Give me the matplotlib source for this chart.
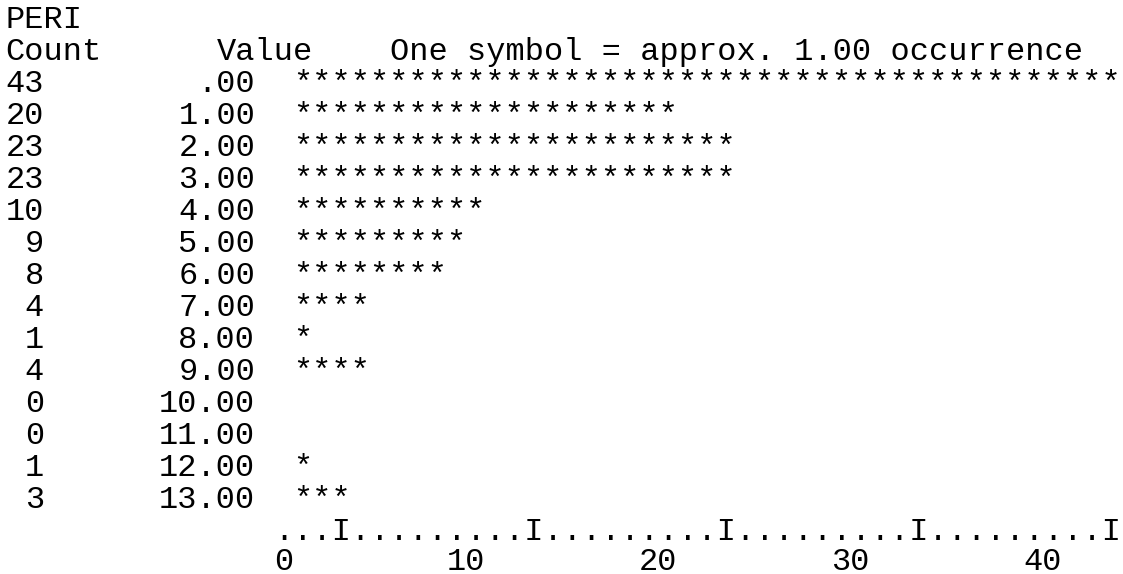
import matplotlib
matplotlib.use("Agg")
import matplotlib.pyplot as plt

# ---- data ----
variable_name = "PERI"
values = [0, 1, 2, 3, 4, 5, 6, 7, 8, 9, 10, 11, 12, 13]
value_labels = [".00", "1.00", "2.00", "3.00", "4.00", "5.00", "6.00",
                "7.00", "8.00", "9.00", "10.00", "11.00", "12.00", "13.00"]
counts = [43, 20, 23, 23, 10, 9, 8, 4, 1, 4, 0, 0, 1, 3]
axis_tick_values = [0, 10, 20, 30, 40]
axis_marks = "...I.........I.........I.........I.........I"
header_count = "Count"
header_value = "Value"
header_note = "One symbol = approx. 1.00 occurrence"

# ---- layout (character grid) ----
W, H, DPI = 1123, 574, 100
PITCH_X = 19.2      # px per character column
PITCH_Y = 32.0      # px per text row
X0 = 5.5            # px of column 0 left edge
BASE0 = 28.0        # px of baseline of row 0
FONT_PX = 32.0
fs = FONT_PX * 72 / DPI

fig = plt.figure(figsize=(W / DPI, H / DPI), dpi=DPI)
ax = fig.add_axes([0, 0, 1, 1])
ax.set_xlim(-X0 / PITCH_X, (W - X0) / PITCH_X)
ax.set_ylim((H - BASE0) / PITCH_Y, -BASE0 / PITCH_Y)
ax.axis("off")

font = dict(family=["Liberation Mono", "DejaVu Sans Mono"], fontsize=fs,
            color="black", ha="left", va="baseline")

COUNT_COL = 0
COUNT_W = 2
VALUE_END = 13      # column after last char of value label
STAR_COL = 15
AXIS_COL = STAR_COL - 1

ax.text(0, 0, variable_name, **font)
ax.text(COUNT_COL, 1, header_count, **font)
ax.text(11, 1, header_value, **font)
ax.text(20, 1, header_note, **font)

for i, (c, lab) in enumerate(zip(counts, value_labels)):
    row = 2 + i
    cs = str(c)
    ax.text(COUNT_COL + (COUNT_W - len(cs) if c < 10 else 0), row, cs, **font)
    ax.text(VALUE_END - len(lab), row, lab, **font)
    if c > 0:
        ax.text(STAR_COL, row, "*" * c, **font)

axis_row = 2 + len(counts)
ax.text(AXIS_COL, axis_row, axis_marks, **font)
for t in axis_tick_values:
    s = str(t)
    ax.text(AXIS_COL + t - len(s) + 1, axis_row + 1 - 2.5 / PITCH_Y, s, **font)

fig.savefig("out.png", dpi=DPI, facecolor="white")
